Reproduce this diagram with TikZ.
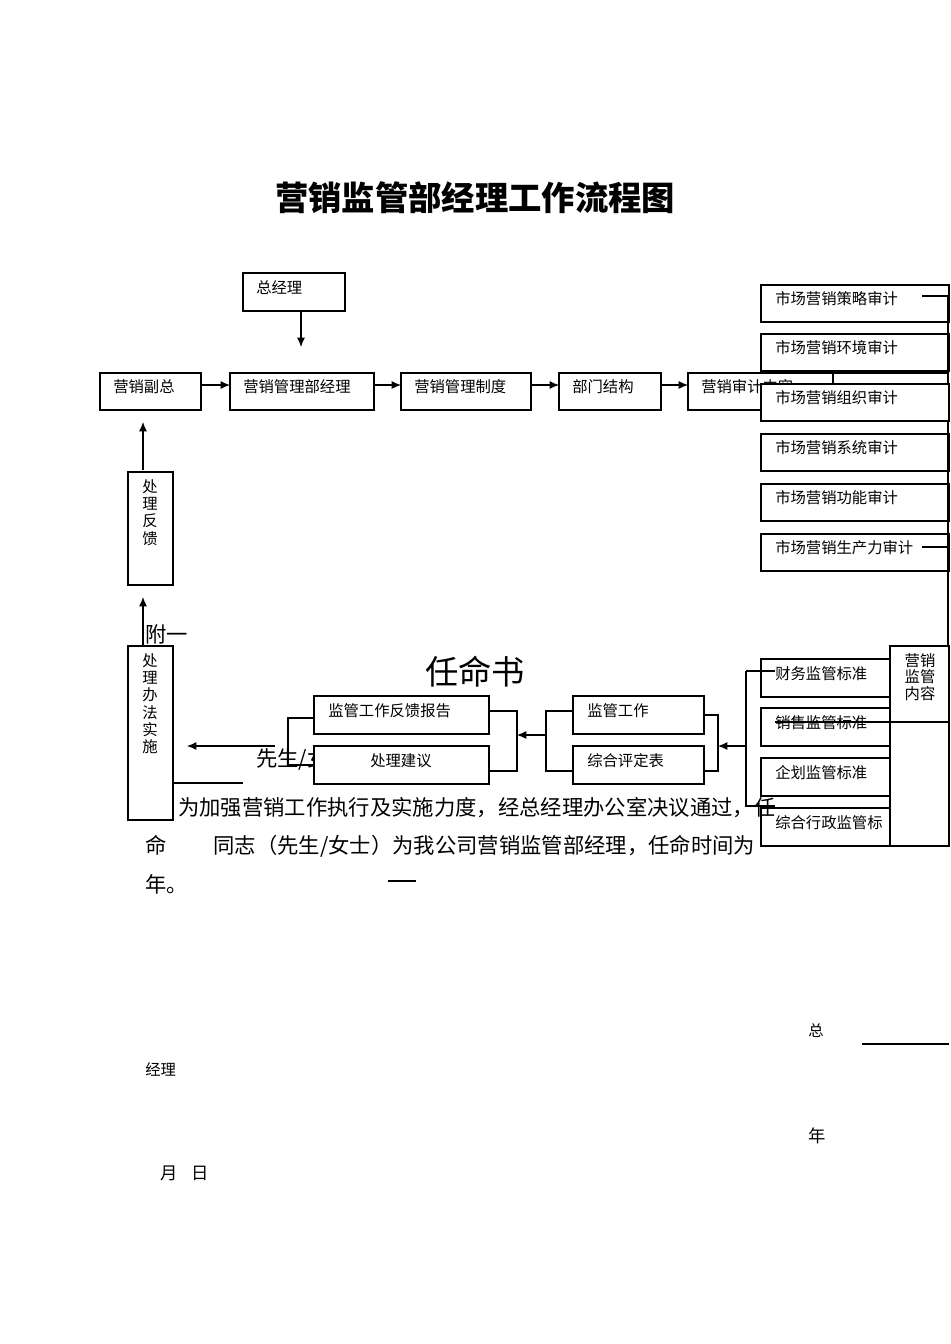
\documentclass[tikz,border=0pt]{standalone}
\usepackage{fontspec}
\setmainfont{Noto Sans CJK SC}
\usetikzlibrary{arrows.meta}
\begin{document}
\begin{tikzpicture}[x=0.75pt,y=-0.75pt,
 bx/.style={draw,fill=white,line width=0.8pt},
 ln/.style={line width=0.8pt},
 ar/.style={line width=0.8pt,-{Latex[length=7pt,width=6pt]}},
 sm/.style={font=\fontsize{11.5pt}{13pt}\selectfont,anchor=west,inner sep=0pt},
 bd/.style={font=\fontsize{16pt}{18pt}\selectfont,anchor=west,inner sep=0pt}]
\useasboundingbox (0,0) rectangle (950,1344);
\node[font=\bfseries\fontsize{25pt}{28pt}\selectfont] (title) at (475,198) {营销监管部经理工作流程图};
% top row
\draw[bx] (243,273) rectangle (345,311); \node[sm] (zjl) at (256,288) {总经理};
\draw[bx] (100,373) rectangle (201,410); \node[sm] (yxfz) at (113,387) {营销副总};
\draw[bx] (230,373) rectangle (374,410); \node[sm] (jl) at (243,387) {营销管理部经理};
\draw[bx] (401,373) rectangle (531,410); \node[sm] (zd) at (414,387) {营销管理制度};
\draw[bx] (559,373) rectangle (661,410); \node[sm] (bm) at (572,387) {部门结构};
\draw[bx] (688,373) rectangle (833,410); \node[sm] (sj) at (701,387) {营销审计内容};
\coordinate (a1) at (301,311); \coordinate (a2) at (301,347);
\draw[ar] (a1) -- (a2);
\coordinate (b1) at (201,385); \coordinate (b2) at (230,385); \draw[ar] (b1)--(b2);
\coordinate (c1) at (374,385); \coordinate (c2) at (401,385); \draw[ar] (c1)--(c2);
\coordinate (d1) at (531,385); \coordinate (d2) at (559,385); \draw[ar] (d1)--(d2);
\coordinate (e1) at (661,385); \coordinate (e2) at (688,385); \draw[ar] (e1)--(e2);
% right column
\foreach \y/\t in {285/市场营销策略审计,334/市场营销环境审计,384/市场营销组织审计,434/市场营销系统审计,484/市场营销功能审计,534/市场营销生产力审计}{
 \draw[bx] (761,\y) rectangle (949,\y+37);
 \node[sm] at (775,\y+14) {\t};}
\coordinate (v1) at (948,296); \coordinate (v2) at (948,646);
\draw[ln] (v1)--(v2);
\draw[ln] (922,296)--(v1);
\draw[ln] (922,547)--(948,547);
\draw[ln] (900,571)--(948,571);
% left vertical boxes
\draw[bx] (128,472) rectangle (173,585);
\node[font=\fontsize{11.5pt}{13pt}\selectfont,align=center,anchor=north,inner sep=0pt] (fk) at (150,479) {处\\理\\反\\馈};
\draw[bx] (128,646) rectangle (173,820);
\node[font=\fontsize{11.5pt}{13pt}\selectfont,align=center,anchor=north,inner sep=0pt] (ss) at (150,653) {处\\理\\办\\法\\实\\施};
\coordinate (f1) at (143,470); \coordinate (f2) at (143,422); \draw[ar] (f1)--(f2);
\coordinate (g1) at (143,645); \coordinate (g2) at (143,597); \draw[ar] (g1)--(g2);
% supervision content
\draw[bx] (890,646) rectangle (949,846);
\node[font=\fontsize{11.5pt}{12.5pt}\selectfont,align=center,anchor=north,inner sep=0pt] (nr) at (920,653) {营销\\监管\\内容};
\foreach \y/\t in {659/财务监管标准,708/销售监管标准,758/企划监管标准,808/综合行政监管标}{
 \draw[bx] (761,\y) rectangle (890,\y+38);
 \node[sm] at (775,\y+15) {\t};}
\draw[ln] (775,722)--(949,722);
\draw[ln] (746,671)--(775,671); \draw[ln] (746,671)--(746,806)--(775,806);
\coordinate (h1) at (746,746); \coordinate (h2) at (718,746); \draw[ar] (h1)--(h2);
% middle
\draw[bx] (573,696) rectangle (704,734); \node[sm] at (587,711) {监管工作};
\draw[bx] (573,746) rectangle (704,784); \node[sm] at (587,761) {综合评定表};
\draw[ln] (704,715)--(718,715)--(718,771)--(704,771);
\draw[ln] (573,711)--(546,711)--(546,771)--(573,771);
\coordinate (i1) at (546,735); \coordinate (i2) at (517,735); \draw[ar] (i1)--(i2);
\draw[bx] (314,696) rectangle (489,734); \node[sm] at (328,711) {监管工作反馈报告};
\draw[ln] (489,711)--(517,711)--(517,771)--(489,771);
\draw[ln] (314,718)--(288,718)--(288,765)--(314,765);
\coordinate (j1) at (275,746); \coordinate (j2) at (187,746); \draw[ar] (j1)--(j2);
\node[bd] (xs) at (256,759) {先生/女};
\draw[bx] (314,746) rectangle (489,784); \node[sm] at (370,761) {处理建议};
\draw[ln] (173,783)--(243,783);
% document text
\node[bd] (fy) at (145,634) {附一};
\node[font=\fontsize{25pt}{28pt}\selectfont] (rms) at (475,672) {任命书};
\node[bd] (p1) at (178,808) {为加强营销工作执行及实施力度，经总经理办公室决议通过，任};
\node[bd] (p2) at (145,846) {命\hspace{2.2em}同志（先生/女士）为我公司营销监管部经理，任命时间为};
\node[bd] (p3) at (145,884) {年。};
\draw[ln] (388,881)--(416,881);
\node[sm] (zong) at (808,1031) {总};
\draw[ln] (862,1044)--(949,1044);
\node[sm] (jl2) at (145,1069) {经理};
\node[sm,font=\fontsize{13pt}{15pt}\selectfont] (nian) at (808,1136) {年};
\node[sm,font=\fontsize{13pt}{15pt}\selectfont] (yr) at (160,1173) {月\hspace{0.8em}日};
% overlay right boxes redrawn over 营销审计内容
\foreach \y/\t in {384/市场营销组织审计}{
 \draw[bx] (761,\y) rectangle (949,\y+37);
 \node[sm] at (775,\y+14) {\t};}
\draw[ln] (833,373)--(949,373);
\end{tikzpicture}
\end{document}
